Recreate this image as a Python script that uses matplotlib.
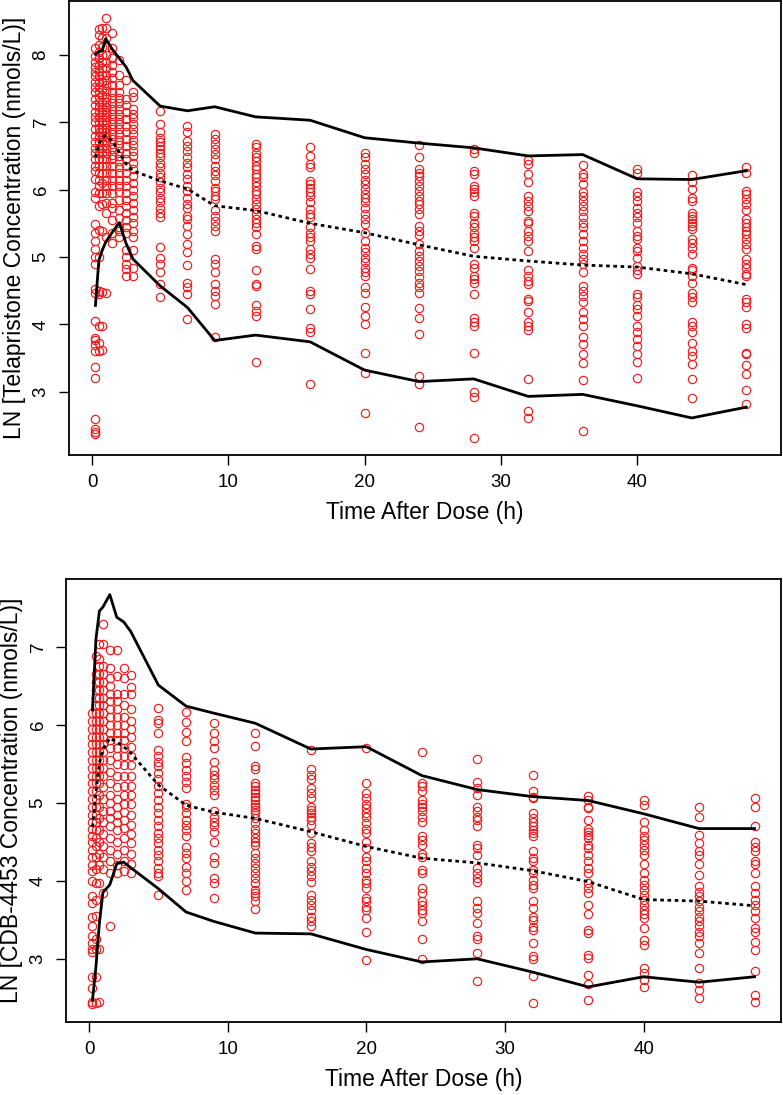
import matplotlib
matplotlib.use("Agg")
import matplotlib.pyplot as plt

plt.rcParams['font.family'] = ['Liberation Sans', 'DejaVu Sans']

times = [0.25, 0.5, 0.75, 1, 1.5, 2, 2.5, 3, 5, 7, 9, 12, 16, 20, 24, 28, 32, 36, 40, 44, 48]

# ---------------- Telapristone (top panel) observed values -----------------
tel_t0_25 = [2.37, 2.40, 2.45, 2.60, 3.21, 3.36, 3.61, 3.70, 3.76, 3.80, 4.05, 4.47, 4.53, 4.90, 5.00,
             5.12, 5.24, 5.36, 5.49, 5.88, 5.97, 6.16, 6.28, 6.35, 6.45, 6.55, 6.62, 6.70, 6.80, 6.90,
             7.00, 7.08, 7.15, 7.25, 7.35, 7.45, 7.52, 7.60, 7.68, 7.75, 7.82, 7.90, 7.98, 8.10]
tel_t0_5 = [3.60, 3.72, 3.97, 4.45, 4.50, 5.00, 5.40, 5.75, 5.95, 6.05, 6.15, 6.25, 6.35, 6.45, 6.55,
            6.62, 6.70, 6.78, 6.85, 6.92, 7.00, 7.08, 7.15, 7.22, 7.30, 7.38, 7.45, 7.52, 7.60, 7.68,
            7.76, 7.85, 7.95, 8.05, 8.15, 8.30, 8.38]
tel_t0_75 = [3.62, 3.97, 4.48, 5.38, 5.78, 5.95, 6.10, 6.25, 6.35, 6.45, 6.55, 6.62, 6.70, 6.78, 6.85,
             6.92, 7.00, 7.08, 7.15, 7.22, 7.30, 7.40, 7.50, 7.60, 7.70, 7.80, 7.90, 8.00, 8.12, 8.25, 8.40]
tel_t1 = [4.47, 5.30, 5.65, 5.80, 5.95, 6.05, 6.15, 6.25, 6.35, 6.45, 6.55, 6.62, 6.70, 6.78, 6.85,
          6.92, 7.00, 7.08, 7.15, 7.22, 7.30, 7.38, 7.46, 7.55, 7.62, 7.70, 7.80, 7.90, 8.00, 8.12,
          8.25, 8.40, 8.55]
tel_t1_5 = [5.20, 5.35, 5.55, 5.72, 5.80, 5.95, 6.05, 6.15, 6.25, 6.35, 6.45, 6.52, 6.60, 6.68, 6.75,
            6.82, 6.90, 6.98, 7.05, 7.12, 7.20, 7.28, 7.36, 7.45, 7.55, 7.65, 7.75, 7.85, 7.95, 8.10, 8.33]
tel_t2 = [5.30, 5.38, 5.45, 5.58, 5.70, 5.85, 5.97, 6.05, 6.15, 6.25, 6.33, 6.42, 6.50, 6.58, 6.66,
          6.74, 6.82, 6.90, 6.98, 7.05, 7.12, 7.20, 7.28, 7.36, 7.45, 7.55, 7.70, 7.92]
tel_t2_5 = [4.72, 4.82, 4.90, 5.00, 5.10, 5.35, 5.45, 5.55, 5.65, 5.75, 5.85, 5.95, 6.05, 6.15, 6.25,
            6.35, 6.45, 6.55, 6.65, 6.75, 6.85, 6.95, 7.05, 7.15, 7.25, 7.35, 7.62]
tel_t3 = [4.72, 4.84, 5.11, 5.30, 5.39, 5.50, 5.60, 5.70, 5.80, 5.90, 6.00, 6.10, 6.20, 6.30, 6.40,
          6.50, 6.58, 6.66, 6.74, 6.82, 6.90, 6.98, 7.06, 7.12, 7.20, 7.37, 7.45]
tel_t5 = [7.17, 6.97, 6.85, 6.77, 6.70, 6.65, 6.60, 6.55, 6.48, 6.40, 6.33, 6.25, 6.18, 6.11, 6.03,
          5.96, 5.88, 5.81, 5.73, 5.66, 5.59, 5.15, 4.99, 4.89, 4.77, 4.60, 4.40]
tel_t7 = [6.95, 6.85, 6.72, 6.65, 6.58, 6.48, 6.40, 6.33, 6.23, 6.16, 6.06, 5.98, 5.88, 5.78, 5.73,
          5.61, 5.56, 5.46, 5.34, 5.19, 5.07, 4.88, 4.62, 4.55, 4.45, 4.08]
tel_t9 = [6.82, 6.75, 6.68, 6.60, 6.53, 6.45, 6.35, 6.28, 6.21, 6.13, 6.03, 5.98, 5.91, 5.86, 5.69,
          5.61, 5.54, 5.46, 5.39, 4.97, 4.89, 4.77, 4.60, 4.50, 4.42, 4.30, 3.81]
tel_t12 = [6.68, 6.63, 6.55, 6.48, 6.43, 6.35, 6.30, 6.23, 6.18, 6.11, 6.06, 5.98, 5.93, 5.86, 5.78,
           5.71, 5.64, 5.56, 5.51, 5.44, 5.34, 5.17, 5.12, 4.80, 4.60, 4.57, 4.28, 4.20, 4.13, 3.44]
tel_t16 = [6.63, 6.50, 6.38, 6.33, 6.13, 6.08, 6.03, 5.96, 5.91, 5.81, 5.71, 5.64, 5.59, 5.44, 5.36,
           5.29, 5.24, 5.12, 5.04, 4.99, 4.82, 4.50, 4.45, 4.23, 3.95, 3.88, 3.11]
tel_t20 = [6.54, 6.48, 6.38, 6.30, 6.23, 6.15, 6.08, 6.01, 5.93, 5.88, 5.81, 5.73, 5.64, 5.56, 5.49,
           5.36, 5.24, 5.14, 5.07, 4.99, 4.92, 4.84, 4.77, 4.72, 4.55, 4.47, 4.26, 4.13, 4.00, 3.57,
           3.27, 2.69]
tel_t24 = [6.66, 6.48, 6.30, 6.25, 6.20, 6.13, 6.06, 5.98, 5.91, 5.83, 5.78, 5.71, 5.64, 5.46, 5.39,
           5.32, 5.19, 5.09, 5.02, 4.94, 4.87, 4.79, 4.70, 4.62, 4.55, 4.47, 4.24, 4.09, 3.85, 3.24,
           3.11, 2.48]
tel_t28 = [6.60, 6.54, 6.28, 6.23, 6.06, 6.01, 5.96, 5.91, 5.66, 5.61, 5.51, 5.44, 5.36, 5.29, 5.24,
           5.14, 4.89, 4.84, 4.72, 4.67, 4.62, 4.45, 4.10, 4.03, 3.98, 3.58, 2.99, 2.92, 2.31]
tel_t32 = [6.44, 6.38, 6.23, 6.11, 5.91, 5.83, 5.76, 5.68, 5.54, 5.51, 5.39, 5.31, 5.24, 5.09, 4.80,
           4.72, 4.65, 4.60, 4.38, 4.35, 4.18, 4.03, 3.98, 3.91, 3.19, 2.71, 2.61]
tel_t36 = [6.37, 6.23, 6.18, 6.08, 5.96, 5.91, 5.83, 5.76, 5.68, 5.59, 5.51, 5.44, 5.34, 5.24, 5.14,
           5.04, 4.97, 4.89, 4.78, 4.57, 4.50, 4.42, 4.33, 4.18, 4.08, 3.98, 3.81, 3.71, 3.56, 3.42,
           3.17, 2.42]
tel_t40 = [6.30, 6.25, 5.96, 5.91, 5.83, 5.73, 5.66, 5.59, 5.51, 5.39, 5.31, 5.26, 5.14, 5.09, 4.99,
           4.87, 4.80, 4.74, 4.45, 4.40, 4.28, 4.23, 4.13, 3.98, 3.88, 3.78, 3.68, 3.56, 3.44, 3.20]
tel_t44 = [6.22, 6.11, 6.01, 5.88, 5.83, 5.66, 5.61, 5.56, 5.51, 5.46, 5.41, 5.26, 5.21, 5.14, 5.04,
           4.84, 4.80, 4.71, 4.62, 4.47, 4.40, 4.33, 4.03, 3.98, 3.88, 3.73, 3.61, 3.53, 3.41, 3.19, 2.91]
tel_t48 = [6.34, 6.24, 5.98, 5.93, 5.86, 5.78, 5.69, 5.56, 5.51, 5.44, 5.39, 5.34, 5.26, 5.19, 5.12,
           4.97, 4.89, 4.84, 4.74, 4.72, 4.38, 4.33, 4.25, 4.00, 3.95, 3.58, 3.56, 3.39, 3.26, 3.02, 2.81]

tel_obs = [tel_t0_25, tel_t0_5, tel_t0_75, tel_t1, tel_t1_5, tel_t2, tel_t2_5, tel_t3, tel_t5, tel_t7,
           tel_t9, tel_t12, tel_t16, tel_t20, tel_t24, tel_t28, tel_t32, tel_t36, tel_t40, tel_t44, tel_t48]

tel_p95 = [8.01, 8.05, 8.06, 8.24, 8.08, 7.95, 7.82, 7.62, 7.24, 7.17, 7.23, 7.08, 7.03, 6.77, 6.69,
           6.62, 6.50, 6.52, 6.16, 6.15, 6.28]
tel_p50 = [6.48, 6.67, 6.77, 6.80, 6.72, 6.55, 6.38, 6.28, 6.13, 6.01, 5.76, 5.69, 5.50, 5.36, 5.18,
           5.01, 4.94, 4.88, 4.85, 4.75, 4.59]
tel_p05 = [4.28, 4.95, 5.10, 5.22, 5.37, 5.51, 5.20, 4.97, 4.57, 4.25, 3.76, 3.84, 3.74, 3.32, 3.15,
           3.19, 2.93, 2.96, 2.79, 2.61, 2.77]

# ---------------- CDB-4453 (bottom panel) observed values -----------------
cdb_t0_25 = [2.42, 2.45, 2.62, 2.77, 3.09, 3.12, 3.20, 3.29, 3.42, 3.54, 3.71, 3.80, 4.00, 4.12, 4.20,
             4.30, 4.40, 4.50, 4.58, 4.66, 4.75, 4.85, 4.95, 5.05, 5.15, 5.25, 5.35, 5.45, 5.55, 5.65,
             5.75, 5.85, 5.95, 6.05, 6.15]
cdb_t0_5 = [2.43, 2.77, 3.12, 3.25, 3.55, 3.75, 3.97, 4.15, 4.30, 4.45, 4.55, 4.65, 4.75, 4.85, 4.95,
            5.05, 5.15, 5.25, 5.35, 5.45, 5.55, 5.65, 5.75, 5.85, 5.95, 6.05, 6.15, 6.25, 6.35, 6.45,
            6.55, 6.65, 6.88]
cdb_t0_75 = [2.45, 3.12, 3.97, 4.20, 4.35, 4.50, 4.65, 4.80, 4.95, 5.10, 5.25, 5.35, 5.45, 5.55, 5.65,
             5.75, 5.85, 5.95, 6.05, 6.15, 6.25, 6.35, 6.45, 6.55, 6.65, 6.75, 6.85, 7.04]
cdb_t1 = [3.85, 4.15, 4.30, 4.45, 4.60, 4.75, 4.90, 5.05, 5.20, 5.35, 5.45, 5.55, 5.65, 5.75, 5.85,
          5.95, 6.05, 6.15, 6.25, 6.35, 6.45, 6.55, 6.65, 6.76, 7.04, 7.29]
cdb_t1_5 = [3.42, 4.10, 4.25, 4.40, 4.55, 4.70, 4.80, 4.90, 5.00, 5.10, 5.25, 5.40, 5.55, 5.70, 5.80,
            5.90, 6.00, 6.10, 6.20, 6.30, 6.40, 6.50, 6.60, 6.73, 6.96]
cdb_t2 = [4.10, 4.20, 4.35, 4.50, 4.65, 4.75, 4.85, 4.95, 5.05, 5.20, 5.35, 5.50, 5.60, 5.70, 5.80,
          5.90, 6.00, 6.10, 6.20, 6.30, 6.40, 6.62, 6.96]
cdb_t2_5 = [4.12, 4.25, 4.40, 4.55, 4.68, 4.78, 4.88, 4.98, 5.10, 5.22, 5.35, 5.48, 5.60, 5.70, 5.80,
            5.90, 6.00, 6.10, 6.25, 6.40, 6.60, 6.73]
cdb_t3 = [4.10, 4.22, 4.35, 4.48, 4.60, 4.72, 4.85, 4.98, 5.10, 5.22, 5.35, 5.48, 5.60, 5.72, 5.85,
          5.95, 6.05, 6.20, 6.40, 6.49, 6.64]
cdb_t5 = [6.22, 6.06, 6.03, 5.89, 5.68, 5.60, 5.53, 5.47, 5.38, 5.30, 5.21, 5.12, 5.04, 4.95, 4.87,
          4.78, 4.70, 4.61, 4.55, 4.48, 4.40, 4.33, 4.25, 4.17, 4.10, 4.06, 3.82]
cdb_t7 = [6.16, 6.04, 5.91, 5.79, 5.59, 5.51, 5.42, 5.34, 5.27, 5.19, 4.99, 4.95, 4.87, 4.78, 4.72,
          4.65, 4.58, 4.44, 4.36, 4.29, 4.18, 4.10, 4.00, 3.88]
cdb_t9 = [6.02, 5.89, 5.79, 5.70, 5.53, 5.42, 5.36, 5.30, 5.23, 5.17, 5.10, 4.89, 4.82, 4.76, 4.70,
          4.63, 4.50, 4.31, 4.23, 4.03, 3.97, 3.78]
cdb_t12 = [5.89, 5.73, 5.47, 5.43, 5.25, 5.21, 5.17, 5.12, 5.08, 5.04, 4.99, 4.95, 4.91, 4.87, 4.80,
           4.74, 4.67, 4.61, 4.55, 4.50, 4.46, 4.36, 4.29, 4.23, 4.16, 4.10, 4.03, 3.97, 3.88, 3.84,
           3.80, 3.74, 3.64]
cdb_t16 = [5.68, 5.43, 5.36, 5.30, 5.19, 5.12, 5.06, 4.95, 4.91, 4.87, 4.82, 4.78, 4.71, 4.61, 4.48,
           4.44, 4.38, 4.25, 4.18, 4.12, 4.06, 3.99, 3.82, 3.76, 3.69, 3.63, 3.54, 3.48, 3.42]
cdb_t20 = [5.70, 5.25, 5.12, 5.06, 4.99, 4.93, 4.87, 4.82, 4.74, 4.67, 4.61, 4.50, 4.42, 4.31, 4.25,
           4.16, 4.10, 4.01, 3.97, 3.91, 3.78, 3.74, 3.67, 3.63, 3.52, 3.35, 2.98]
cdb_t24 = [5.65, 5.25, 5.22, 5.15, 5.04, 4.99, 4.95, 4.89, 4.82, 4.76, 4.57, 4.52, 4.46, 4.35, 4.31,
           4.14, 4.10, 3.91, 3.84, 3.74, 3.69, 3.63, 3.59, 3.48, 3.25, 3.00]
cdb_t28 = [5.56, 5.27, 5.19, 5.10, 4.95, 4.89, 4.82, 4.78, 4.70, 4.46, 4.42, 4.33, 4.16, 4.10, 4.03,
           3.99, 3.74, 3.65, 3.59, 3.46, 3.29, 3.25, 3.08, 2.71]
cdb_t32 = [5.36, 5.15, 5.08, 5.06, 4.87, 4.80, 4.76, 4.70, 4.65, 4.61, 4.57, 4.38, 4.29, 4.25, 4.14,
           4.10, 4.01, 3.95, 3.91, 3.74, 3.65, 3.54, 3.50, 3.41, 3.37, 3.20, 3.03, 3.00, 2.78, 2.44]
cdb_t36 = [5.09, 5.04, 4.95, 4.93, 4.78, 4.67, 4.63, 4.59, 4.55, 4.46, 4.42, 4.33, 4.25, 4.16, 4.10,
           3.97, 3.91, 3.84, 3.69, 3.57, 3.37, 3.33, 3.05, 3.01, 2.79, 2.68, 2.47]
cdb_t40 = [5.04, 4.97, 4.76, 4.65, 4.57, 4.52, 4.46, 4.40, 4.33, 4.21, 4.10, 4.01, 3.95, 3.88, 3.82,
           3.76, 3.69, 3.63, 3.57, 3.52, 3.39, 3.24, 3.18, 2.88, 2.82, 2.73, 2.64]
cdb_t44 = [4.95, 4.82, 4.59, 4.48, 4.38, 4.33, 4.21, 4.08, 3.93, 3.86, 3.80, 3.74, 3.67, 3.61, 3.54,
           3.48, 3.42, 3.35, 3.29, 3.20, 3.07, 2.88, 2.69, 2.60, 2.50]
cdb_t48 = [5.06, 4.95, 4.70, 4.50, 4.44, 4.38, 4.25, 4.21, 4.10, 3.93, 3.84, 3.76, 3.69, 3.61, 3.52,
           3.39, 3.35, 3.22, 3.11, 2.84, 2.54, 2.45]

cdb_obs = [cdb_t0_25, cdb_t0_5, cdb_t0_75, cdb_t1, cdb_t1_5, cdb_t2, cdb_t2_5, cdb_t3, cdb_t5, cdb_t7,
           cdb_t9, cdb_t12, cdb_t16, cdb_t20, cdb_t24, cdb_t28, cdb_t32, cdb_t36, cdb_t40, cdb_t44, cdb_t48]

cdb_p95 = [6.19, 7.10, 7.46, 7.51, 7.67, 7.38, 7.32, 7.20, 6.51, 6.24, 6.15, 6.02, 5.69, 5.72, 5.35,
           5.17, 5.08, 5.03, 4.86, 4.67, 4.67]
cdb_p50 = [4.69, 5.13, 5.51, 5.68, 5.83, 5.78, 5.72, 5.64, 5.23, 4.97, 4.88, 4.80, 4.63, 4.44, 4.29,
           4.23, 4.13, 3.99, 3.76, 3.74, 3.68]
cdb_p05 = [2.47, 2.90, 3.46, 3.85, 3.95, 4.22, 4.24, 4.17, 3.90, 3.60, 3.48, 3.33, 3.32, 3.12, 2.96,
           3.00, 2.83, 2.64, 2.77, 2.70, 2.77]

xticks = [0, 10, 20, 30, 40]
tel_yticks = [3, 4, 5, 6, 7, 8]
cdb_yticks = [3, 4, 5, 6, 7]
xlabel = "Time After Dose (h)"
tel_ylabel = "LN [Telapristone Concentration (nmols/L)]"
cdb_ylabel = "LN [CDB-4453 Concentration (nmols/L)]"

W, H = 783, 1095
fig = plt.figure(figsize=(W / 100, H / 100), dpi=100)


def panel(rect, obs, p95, p50, p05, xlim, yticks, ylim, ylabel):
    ax = fig.add_axes(rect)
    for t, vals in zip(times, obs):
        ax.plot([t] * len(vals), vals, linestyle='none', marker='o', markersize=6.0,
                markerfacecolor='none', markeredgecolor='#ee1c1c', markeredgewidth=0.85)
    ax.plot(times, p95, color='black', lw=2.0, solid_joinstyle='round')
    ax.plot(times, p05, color='black', lw=2.0, solid_joinstyle='round')
    ax.plot(times, p50, color='black', lw=2.0, linestyle=(0, (1.3, 1.3)))
    ax.set_xlim(*xlim)
    ax.set_ylim(*ylim)
    ax.set_xticks(xticks)
    ax.set_yticks(yticks)
    ax.tick_params(axis='both', direction='out', length=7, width=1.0, labelsize=13.5, pad=7)
    for lab in ax.get_yticklabels():
        lab.set_rotation(90)
        lab.set_va('center')
    for s in ax.spines.values():
        s.set_linewidth(1.3)
    ax.set_xlabel(xlabel, fontsize=16.5, labelpad=7)
    ax.set_ylabel(ylabel, fontsize=16.5, labelpad=5)
    return ax


panel([69 / W, 1 - 455 / H, (781 - 69) / W, 454 / H], tel_obs, tel_p95, tel_p50, tel_p05,
      (-1.69, 50.55), tel_yticks, (2.06, 8.80), tel_ylabel)
panel([66 / W, 1 - 1022 / H, (781 - 66) / W, (1022 - 579) / H], cdb_obs, cdb_p95, cdb_p50, cdb_p05,
      (-1.66, 49.91), cdb_yticks, (2.19, 7.87), cdb_ylabel)

fig.savefig("out.png", dpi=100)
